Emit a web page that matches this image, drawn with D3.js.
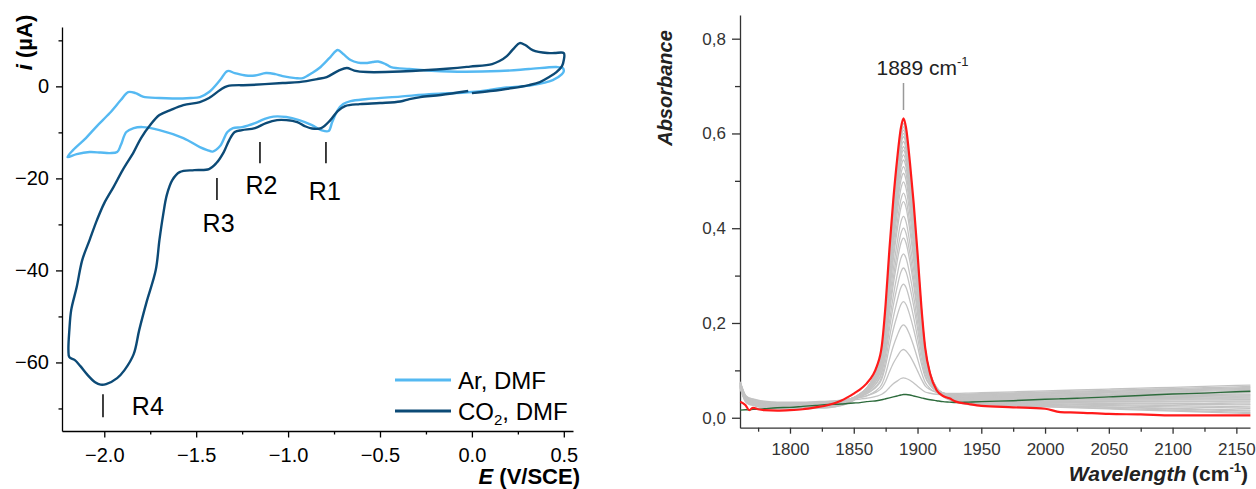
<!DOCTYPE html>
<html><head><meta charset="utf-8">
<script src="https://cdn.jsdelivr.net/npm/d3@7"></script>
<style>
html,body{margin:0;padding:0;background:#fff;}
svg{display:block;font-family:"Liberation Sans",Arial,sans-serif;}
</style></head><body>
<svg id="chart" width="1256" height="489"></svg>
<script>
// ---------------- Left panel: cyclic voltammograms ----------------
const cvTicksX = [-2.0, -1.5, -1.0, -0.5, 0.0, 0.5];
const cvMinorX = [-1.75, -1.25, -0.75, -0.25, 0.25];
const cvTicksY = [-60, -40, -20, 0];
const cvMinorY = [-70, -50, -30, -10, 10];

const cvSeriesNames = ["Ar, DMF", "CO2, DMF"];

const arE = [0.49,0.44,0.33,0.19,0.00,-0.21,-0.39,-0.57,-0.66,-0.70,-0.73,-0.76,-0.78,-0.82,-0.87,-0.94,-1.01,-1.08,-1.13,-1.18,-1.25,-1.30,-1.33,-1.37,-1.41,-1.44,-1.48,-1.57,-1.70,-1.79,-1.84,-1.88,-1.91,-1.93,-1.97,-2.02,-2.08,-2.15,-2.20,-2.17,-2.10,-2.04,-1.97,-1.91,-1.87,-1.83,-1.79,-1.70,-1.63,-1.53,-1.48,-1.43,-1.37,-1.33,-1.29,-1.23,-1.18,-1.12,-1.07,-1.03,-0.96,-0.92,-0.87,-0.83,-0.77,-0.73,-0.70,-0.66,-0.62,-0.58,-0.54,-0.51,-0.47,-0.44,-0.34,-0.12,0.15,0.31,0.46,0.494,0.50];
const arI = [2.67,1.37,0.28,-0.26,-1.24,-1.67,-2.22,-2.76,-3.2,-3.85,-5.15,-7.76,-9.72,-9.5,-8.41,-7.33,-6.67,-6.57,-7.11,-7.98,-8.85,-9.07,-9.93,-12.98,-14.17,-13.85,-13.2,-11.24,-9.5,-8.85,-9.07,-9.93,-12.76,-14.28,-14.5,-14.39,-14.28,-14.72,-15.37,-13.85,-11.24,-8.63,-5.8,-2.98,-1.24,-1.46,-2.22,-2.54,-2.65,-2.54,-2.33,-1.24,1.37,3.33,2.89,2.35,2.35,2.89,2.67,2.24,1.8,1.8,2.89,3.98,6.37,7.89,7.02,5.72,5.17,5.07,5.28,5.39,4.85,4.2,3.76,3.22,3.33,3.76,4.2,3.98,3.3];

const co2E = [0.00,0.10,0.22,0.31,0.37,0.42,0.46,0.49,0.50,0.50,0.45,0.41,0.33,0.29,0.26,0.23,0.19,0.15,0.11,-0.01,-0.12,-0.39,-0.57,-0.64,-0.68,-0.72,-0.79,-0.84,-0.94,-1.03,-1.21,-1.33,-1.37,-1.43,-1.48,-1.57,-1.64,-1.70,-1.75,-1.80,-1.84,-1.90,-1.95,-2.00,-2.04,-2.08,-2.12,-2.15,-2.18,-2.19,-2.195,-2.19,-2.16,-2.13,-2.09,-2.05,-2.02,-1.99,-1.93,-1.89,-1.84,-1.81,-1.77,-1.72,-1.70,-1.68,-1.66,-1.63,-1.59,-1.51,-1.43,-1.39,-1.35,-1.32,-1.29,-1.25,-1.18,-1.12,-1.06,-1.01,-0.95,-0.91,-0.87,-0.82,-0.77,-0.73,-0.69,-0.61,-0.50,-0.39,-0.34,-0.28,-0.17,-0.02];
const co2I = [-1.46,-1.02,-0.37,0.28,0.93,2.02,3.11,4.41,5.72,7.24,7.24,7.24,7.89,8.98,9.41,8.33,6.59,5.5,4.85,4.3,3.87,3.22,3.11,3.43,3.98,3.54,2.02,1.59,0.93,0.72,0.28,0.07,-0.80,-2.54,-3.41,-4.07,-5.15,-6.24,-8.41,-11.24,-14.28,-18.2,-21.89,-25.37,-29.07,-33.41,-37.76,-43.63,-48.63,-52.98,-57.33,-58.85,-59.5,-60.8,-62.76,-64.28,-64.83,-64.72,-63.41,-61.67,-58.2,-52.98,-46.9,-39.93,-33.41,-27.98,-23.63,-20.37,-18.63,-18.2,-17.98,-16.67,-14.28,-11.67,-9.93,-9.5,-9.07,-7.98,-7.33,-7.33,-7.76,-8.63,-9.17,-9.07,-7.33,-5.37,-4.28,-3.85,-3.63,-3.3,-2.76,-2.33,-1.89,-1.02];

// peak labels (E position, tick top/bottom current, label baseline current)
const peakLabels = ["R1", "R2", "R3", "R4"];
const peakE      = [-0.794, -1.153, -1.387, -2.007];
const peakTickTop = [-12.1, -12.1, -19.9, -66.9];
const peakTickBot = [-16.7, -16.7, -24.7, -71.9];
const peakLabelE  = [-0.80, -1.145, -1.378, -1.85];
const peakLabelI  = [-24.7, -23.4, -31.7, -71.5];

// ---------------- Right panel: IR spectra ----------------
const irTicksX = [1800, 1850, 1900, 1950, 2000, 2050, 2100, 2150];
const irMinorX = [1775, 1825, 1875, 1925, 1975, 2025, 2075, 2125];
const irTicksY = [0.0, 0.2, 0.4, 0.6, 0.8];
const irMinorY = [0.1, 0.3, 0.5, 0.7];

const wn = [1761,1765,1768,1771,1775,1780,1790,1800,1810,1820,1830,1840,1845,1850,1855,1860,1865,1868,1872,1875,1878,1881,1884,1887,1889,1891,1894,1897,1900,1903,1906,1910,1915,1920,1925,1930,1940,1950,1975,2000,2012,2025,2050,2075,2100,2125,2150,2161];
const redAbs = [0.034,0.027,0.016,0.021,0.018,0.016,0.015,0.016,0.018,0.022,0.027,0.036,0.043,0.051,0.060,0.072,0.090,0.108,0.152,0.240,0.357,0.460,0.545,0.612,0.632,0.612,0.540,0.452,0.348,0.235,0.148,0.092,0.058,0.046,0.041,0.034,0.029,0.025,0.022,0.019,0.012,0.011,0.008,0.007,0.005,0.005,0.005,0.005];
const greenAbs = [0.016,0.017,0.017,0.018,0.018,0.019,0.021,0.022,0.024,0.026,0.028,0.029,0.030,0.031,0.032,0.034,0.035,0.036,0.038,0.040,0.042,0.044,0.046,0.048,0.049,0.049,0.048,0.046,0.044,0.042,0.040,0.038,0.036,0.034,0.033,0.032,0.033,0.034,0.036,0.039,0.040,0.041,0.044,0.047,0.050,0.052,0.055,0.056];
// normalised band profile of the 1889 cm-1 peak
const bandShape = [0,0,0,0,0,0,0,0,0,0,0,0.004,0.01,0.02,0.035,0.055,0.09,0.12,0.195,0.34,0.535,0.71,0.855,0.97,1.0,0.97,0.85,0.70,0.525,0.335,0.19,0.095,0.04,0.018,0.008,0.003,0,0,0,0,0,0,0,0,0,0,0,0];
// common baseline of the intermediate (grey) spectra below 1915 cm-1
const greyBase = [0.070,0.042,0.036,0.034,0.031,0.029,0.027,0.027,0.027,0.028,0.029,0.031,0.032,0.033,0.034,0.035,0.036,0.037,0.038,0.038,0.039,0.040,0.040,0.041,0.041,0.041,0.042,0.042,0.042,0.043,0.043,0.044,0.044,0.045,0.045,0.045,0.044,0.043,0.042,0.041,0.041,0.041,0.041,0.041,0.041,0.041,0.041,0.041];
// intermediate spectra: absorbance at 1889, baseline offset, value at 1940 and at 2161
const greyPeak  = [0.084,0.144,0.196,0.245,0.282,0.316,0.346,0.379,0.400,0.425,0.456,0.474,0.498,0.516,0.530,0.544,0.555,0.565,0.572,0.583,0.593,0.600,0.607,0.614,0.621];
const greyShift = [0.004,0.006,0.003,0.005,0.002,0.004,0.001,0.003,0.000,0.002,-0.001,0.001,-0.002,0.000,-0.003,-0.001,-0.004,-0.002,-0.005,-0.003,-0.006,-0.004,-0.007,-0.006,-0.008];
const greyMid   = [0.050,0.052,0.049,0.047,0.048,0.045,0.046,0.043,0.044,0.041,0.042,0.039,0.040,0.037,0.038,0.035,0.036,0.034,0.033,0.032,0.031,0.030,0.030,0.029,0.028];
const greyTail  = [0.066,0.069,0.062,0.060,0.064,0.055,0.058,0.050,0.053,0.046,0.048,0.042,0.044,0.038,0.040,0.033,0.035,0.029,0.027,0.023,0.020,0.016,0.014,0.011,0.009];
const peakWn = 1889;

// ================= drawing =================
const svg = d3.select("#chart");
const FONT = "'Liberation Sans', Arial, sans-serif";
svg.append("rect").attr("width",1256).attr("height",489).attr("fill","#fff");

// ----- left scales -----
const cvX = d3.scaleLinear().domain([-2.23, 0.55]).range([62, 573]);
const cvY = d3.scaleLinear().domain([-74.9, 12.9]).range([431, 27]);

function styleAxis(g, color, fs) {
  g.attr("font-family", FONT).attr("font-size", fs);
  g.selectAll("path.domain").attr("stroke", color).attr("stroke-width", 1.3);
  g.selectAll(".tick line").attr("stroke", color).attr("stroke-width", 1.3);
  g.selectAll(".tick text").attr("fill", color);
}
const L = svg.append("g");
// minor ticks
L.append("g").attr("transform", `translate(0,${cvY(-74.9)})`)
  .call(d3.axisBottom(cvX).tickValues(cvMinorX).tickSize(3.5).tickFormat(""))
  .call(g => { g.select(".domain").remove(); styleAxis(g, "#000", 20); });
L.append("g").attr("transform", `translate(${cvX(-2.23)},0)`)
  .call(d3.axisLeft(cvY).tickValues(cvMinorY).tickSize(3.5).tickFormat(""))
  .call(g => { g.select(".domain").remove(); styleAxis(g, "#000", 20); });
// major axes
L.append("g").attr("transform", `translate(0,${cvY(-74.9)})`)
  .call(d3.axisBottom(cvX).tickValues(cvTicksX).tickFormat(d3.format(".1f")).tickSize(6.5).tickPadding(10).tickSizeOuter(0))
  .call(g => styleAxis(g, "#000", 20));
L.append("g").attr("transform", `translate(${cvX(-2.23)},0)`)
  .call(d3.axisLeft(cvY).tickValues(cvTicksY).tickFormat(d3.format("d")).tickSize(6).tickPadding(7).tickSizeOuter(0))
  .call(g => styleAxis(g, "#000", 20));

const cvColors = ["#55b9f2", "#0c4a76"];
const arPts = d3.zip(arE, arI);
const co2Pts = d3.zip(co2E, co2I);
L.append("path").datum(arPts)
  .attr("d", d3.line().x(d => cvX(d[0])).y(d => cvY(d[1])).curve(d3.curveCatmullRomClosed.alpha(0.5)))
  .attr("fill", "none").attr("stroke", cvColors[0]).attr("stroke-width", 2.4).attr("stroke-linejoin","round");
L.append("path").datum(co2Pts)
  .attr("d", d3.line().x(d => cvX(d[0])).y(d => cvY(d[1])).curve(d3.curveCatmullRom.alpha(0.5)))
  .attr("fill", "none").attr("stroke", cvColors[1]).attr("stroke-width", 2.4).attr("stroke-linejoin","round");

// peak markers
peakLabels.forEach((lab, k) => {
  L.append("line").attr("x1", cvX(peakE[k])).attr("x2", cvX(peakE[k]))
    .attr("y1", cvY(peakTickTop[k])).attr("y2", cvY(peakTickBot[k]))
    .attr("stroke", "#000").attr("stroke-width", 1.5);
  L.append("text").attr("x", cvX(peakLabelE[k])).attr("y", cvY(peakLabelI[k]))
    .attr("text-anchor", k === 3 ? "start" : "middle")
    .attr("font-family", FONT).attr("font-size", 25).attr("fill", "#000").text(lab);
});

// legend
const legY = [380, 411];
cvSeriesNames.forEach((name, k) => {
  L.append("line").attr("x1", 395).attr("x2", 451).attr("y1", legY[k]).attr("y2", legY[k])
    .attr("stroke", cvColors[k]).attr("stroke-width", 3);
  const t = L.append("text").attr("x", 458).attr("y", legY[k] + 9)
    .attr("font-family", FONT).attr("font-size", 24).attr("fill", "#000");
  if (name.startsWith("CO2")) {
    t.append("tspan").text("CO");
    t.append("tspan").attr("font-size", 15).attr("dy", 5).text("2");
    t.append("tspan").attr("dy", -5).text(name.slice(3));
  } else t.text(name);
});

// axis titles
const yT = L.append("text").attr("transform", "translate(32,42.5) rotate(-90)")
  .attr("text-anchor", "middle").attr("font-family", FONT).attr("font-size", 22).attr("font-weight", "bold");
yT.append("tspan").attr("font-style", "italic").text("i");
yT.append("tspan").text(" (µA)");
const xT = L.append("text").attr("x", 580).attr("y", 484).attr("text-anchor", "end")
  .attr("font-family", FONT).attr("font-size", 22).attr("font-weight", "bold");
xT.append("tspan").attr("font-style", "italic").text("E");
xT.append("tspan").text(" (V/SCE)");

// ----- right scales -----
const irX = d3.scaleLinear().domain([1760.8, 2160.7]).range([740, 1250]);
const irY = d3.scaleLinear().domain([-0.021, 0.850]).range([427.7, 15]);
const AX = "#333";
const R = svg.append("g");
const commaFmt = d => d3.format(".1f")(d).replace(".", ",");
R.append("g").attr("transform", `translate(0,${irY(-0.021)})`)
  .call(d3.axisBottom(irX).tickValues(irMinorX).tickSize(4).tickFormat(""))
  .call(g => { g.select(".domain").remove(); styleAxis(g, AX, 17); });
R.append("g").attr("transform", `translate(${irX(1760.8)},0)`)
  .call(d3.axisLeft(irY).tickValues(irMinorY).tickSize(5).tickFormat(""))
  .call(g => { g.select(".domain").remove(); styleAxis(g, AX, 17); });
R.append("g").attr("transform", `translate(0,${irY(-0.021)})`)
  .call(d3.axisBottom(irX).tickValues(irTicksX).tickFormat(d3.format("d")).tickSize(6).tickPadding(9).tickSizeOuter(0))
  .call(g => styleAxis(g, AX, 17));
R.append("g").attr("transform", `translate(${irX(1760.8)},0)`)
  .call(d3.axisLeft(irY).tickValues(irTicksY).tickFormat(commaFmt).tickSize(8).tickPadding(6).tickSizeOuter(0))
  .call(g => styleAxis(g, AX, 17));

const specLine = d3.line().x(d => irX(d[0])).y(d => irY(d[1])).curve(d3.curveMonotoneX);
// intermediate spectra (grey)
const iPk = wn.indexOf(peakWn);
const i1915 = wn.indexOf(1915);
greyPeak.forEach((pk, k) => {
  const ramp = d3.scaleLinear().domain([1915, 1940, 2161]).range([greyBase[i1915] + greyShift[k], greyMid[k], greyTail[k]]);
  const h = pk - (greyBase[iPk] + greyShift[k]);
  const vals = wn.map((w, j) => {
    const base = w <= 1915 ? greyBase[j] + greyShift[k] : ramp(w);
    return [w, base + h * bandShape[j]];
  });
  R.append("path").datum(vals).attr("d", specLine)
    .attr("fill", "none").attr("stroke", "#c3c3c3").attr("stroke-width", 1.3);
});
// first spectrum (green)
R.append("path").datum(d3.zip(wn, greenAbs)).attr("d", specLine)
  .attr("fill", "none").attr("stroke", "#2d6b3c").attr("stroke-width", 1.4);
// final spectrum (red)
R.append("path").datum(d3.zip(wn, redAbs)).attr("d", specLine)
  .attr("fill", "none").attr("stroke", "#ff1a1a").attr("stroke-width", 2.2);

// peak annotation
R.append("line").attr("x1", irX(peakWn)).attr("x2", irX(peakWn)).attr("y1", 83).attr("y2", 110)
  .attr("stroke", "#999").attr("stroke-width", 1.5);
const pa = R.append("text").attr("x", irX(peakWn) - 27).attr("y", 75)
  .attr("font-family", FONT).attr("font-size", 21).attr("fill", "#222");
pa.append("tspan").text(peakWn + " cm");
pa.append("tspan").attr("font-size", 13).attr("dy", -9).text("-1");

// titles
R.append("text").attr("transform", "translate(672,88) rotate(-90)").attr("text-anchor", "middle")
  .attr("font-family", FONT).attr("font-size", 20).attr("font-weight", "bold").attr("font-style", "italic")
  .attr("fill", "#222").text("Absorbance");
const wt = R.append("text").attr("x", 1248).attr("y", 481).attr("text-anchor", "end")
  .attr("font-family", FONT).attr("font-size", 21).attr("font-weight", "bold").attr("fill", "#222");
wt.append("tspan").attr("font-style", "italic").text("Wavelength");
wt.append("tspan").text(" (cm");
wt.append("tspan").attr("font-size", 13).attr("dy", -9).text("-1");
wt.append("tspan").attr("dy", 9).text(")");
</script>
</body></html>
